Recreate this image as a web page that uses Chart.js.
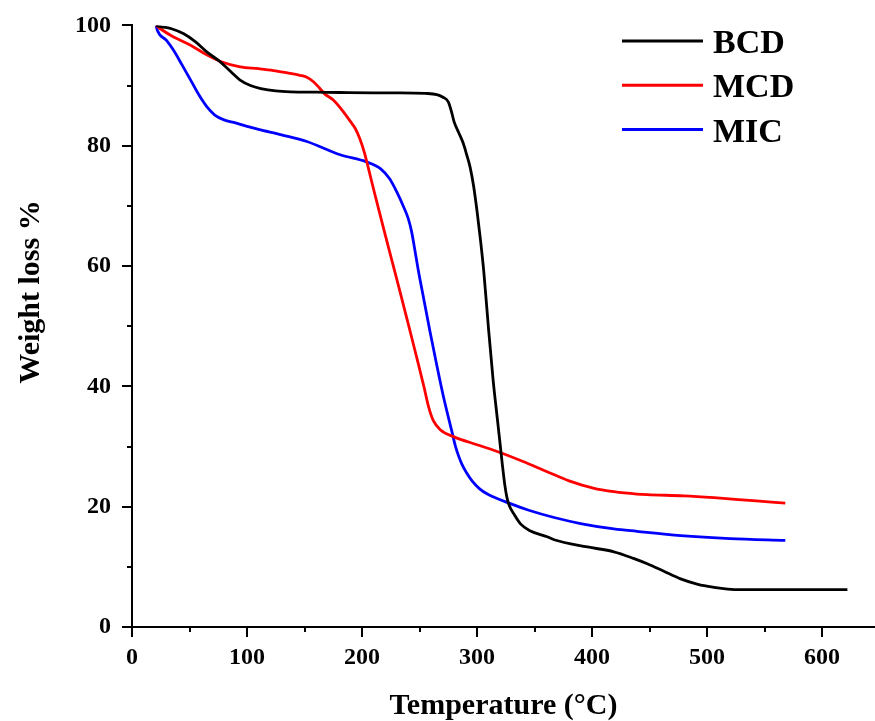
<!DOCTYPE html>
<html>
<head>
<meta charset="utf-8">
<title>TGA - Weight loss vs Temperature</title>
<script src="https://cdn.jsdelivr.net/npm/chart.js@4.4.1/dist/chart.umd.min.js"></script>
<style>
    html, body { margin: 0; padding: 0; background: #ffffff; }
    #wrap { width: 875px; height: 721px; position: relative; }
</style>
</head>
<body>
<div id="wrap"><canvas id="tgaChart"></canvas></div>
<script>
// Series data (temperature in °C, weight %)
const seriesNames = ['BCD', 'MCD', 'MIC'];
const seriesColors = ['#000000', '#ff0000', '#0000ff'];

const bcdTemp = [21, 25, 35, 45, 55, 65, 77, 86, 94, 103, 112, 125, 138, 160, 181, 210, 233, 255, 265, 270, 275, 278, 280, 284, 288, 291, 294, 297, 300, 303, 306, 310, 314, 318, 320, 322, 324, 326, 328, 332, 338, 346, 361, 367, 396, 419, 436, 448, 462, 477, 492, 506, 518, 529, 560, 590, 622];
const bcdWeight = [100, 99.8, 99.4, 98.6, 97.3, 95.6, 93.9, 92.3, 90.9, 90.0, 89.5, 89.1, 88.95, 88.9, 88.85, 88.8, 88.8, 88.7, 88.5, 88.1, 87.3, 85.5, 84.0, 82.2, 80.4, 78.5, 76.4, 73.3, 69.1, 64.3, 58.8, 49.5, 41.0, 34.0, 30.5, 27.0, 23.8, 21.5, 20.2, 18.8, 17.1, 16.0, 15.0, 14.5, 13.3, 12.5, 11.4, 10.5, 9.3, 8.0, 7.1, 6.6, 6.3, 6.2, 6.2, 6.2, 6.2];

const mcdTemp = [21, 25, 35, 51, 65, 77, 94, 110, 123, 135, 146, 152, 158, 163, 167, 175, 184, 190, 194, 198, 202, 206, 210, 214, 220, 232, 242, 249, 254, 258, 262, 268, 280, 300, 320, 340, 361, 380, 401, 419, 439, 448, 480, 506, 540, 568];
const mcdWeight = [100, 99.4, 98.2, 96.7, 95.1, 94.0, 93.1, 92.8, 92.5, 92.1, 91.7, 91.4, 90.6, 89.6, 88.7, 87.6, 85.6, 84.0, 82.9, 81.2, 78.9, 75.9, 72.8, 69.8, 65.3, 56.5, 49.0, 43.7, 39.8, 36.5, 34.3, 32.8, 31.6, 30.3, 29.0, 27.5, 25.8, 24.3, 23.1, 22.5, 22.1, 22.0, 21.8, 21.5, 21.0, 20.6];

const micTemp = [21, 22, 30, 36, 43, 51, 58, 65, 72, 80, 90, 100, 110, 130, 152, 181, 204, 216, 224, 230, 236, 240, 243, 246, 249, 254, 259, 265, 271, 278, 281, 284, 287, 291, 296, 302, 309, 329, 345, 367, 390, 419, 439, 477, 520, 568];
const micWeight = [100, 99.2, 97.5, 95.9, 93.6, 90.9, 88.5, 86.5, 85.1, 84.3, 83.8, 83.2, 82.7, 81.8, 80.7, 78.5, 77.3, 76.2, 74.5, 72.4, 69.9, 68.0, 65.8, 62.6, 59.2, 54.2, 49.2, 43.5, 38.1, 32.6, 30.2, 28.4, 27.0, 25.6, 24.2, 23.0, 22.1, 20.5, 19.4, 18.2, 17.2, 16.3, 15.9, 15.2, 14.7, 14.4];

// Axis ticks
const xTickValues = [0, 100, 200, 300, 400, 500, 600];
const xMinorTicks = [50, 150, 250, 350, 450, 550];
const yTickValues = [0, 20, 40, 60, 80, 100];
const yMinorTicks = [10, 30, 50, 70, 90];

const xTitle = 'Temperature (°C)';
const yTitle = 'Weight loss %';

const FONT = '"Liberation Serif", "Times New Roman", serif';

/**
 * Zip two arrays into Chart.js {x, y} points
 */
function toPoints(xs, ys) {
    return xs.map((x, i) => ({ x: x, y: ys[i] }));
}

/**
 * Minor ticks, inline legend and the rotated y title
 */
const overlayPlugin = {
    id: 'overlay',
    afterDraw(chart) {
        const ctx = chart.ctx;
        const area = chart.chartArea;
        const xs = chart.scales.x;
        const ys = chart.scales.y;

        ctx.save();
        ctx.strokeStyle = '#000';
        ctx.lineWidth = 2;

        // minor tick marks (outside, shorter)
        xMinorTicks.forEach(v => {
            const px = Math.round(xs.getPixelForValue(v));
            ctx.beginPath();
            ctx.moveTo(px, area.bottom);
            ctx.lineTo(px, area.bottom + 5);
            ctx.stroke();
        });
        yMinorTicks.forEach(v => {
            const py = Math.round(ys.getPixelForValue(v));
            ctx.beginPath();
            ctx.moveTo(area.left, py);
            ctx.lineTo(area.left - 5, py);
            ctx.stroke();
        });

        // legend
        ctx.font = 'bold 34px ' + FONT;
        ctx.textAlign = 'left';
        ctx.textBaseline = 'alphabetic';
        chart.data.datasets.forEach((ds, i) => {
            const y = 41 + i * 44.3;
            ctx.strokeStyle = ds.borderColor;
            ctx.lineWidth = 3;
            ctx.beginPath();
            ctx.moveTo(622, y);
            ctx.lineTo(703, y);
            ctx.stroke();
            ctx.fillStyle = '#000';
            ctx.fillText(ds.label, 713, y + 12);
        });

        // y axis title
        ctx.translate(31, 292);
        ctx.rotate(-Math.PI / 2);
        ctx.font = 'bold 30px ' + FONT;
        ctx.textAlign = 'center';
        ctx.textBaseline = 'middle';
        ctx.fillStyle = '#000';
        ctx.fillText(yTitle, 0, 0);
        ctx.restore();
    }
};

function initTgaChart(canvasId) {
    const ctx = document.getElementById(canvasId);
    if (!ctx) {
        console.error(`Canvas element with ID '${canvasId}' not found`);
        return;
    }

    const temps = [bcdTemp, mcdTemp, micTemp];
    const weights = [bcdWeight, mcdWeight, micWeight];

    const datasets = seriesNames.map((name, i) => ({
        label: name,
        data: toPoints(temps[i], weights[i]),
        borderColor: seriesColors[i],
        backgroundColor: seriesColors[i],
        borderWidth: 2.8,
        pointRadius: 0,
        fill: false,
        cubicInterpolationMode: 'monotone'
    }));

    const tickFont = { family: FONT, size: 24, weight: 'bold' };

    window.tgaChart = new Chart(ctx, {
        type: 'line',
        data: { datasets: datasets },
        plugins: [overlayPlugin],
        options: {
            responsive: true,
            maintainAspectRatio: false,
            animation: false,
            layout: {
                padding: { top: 23, right: 0, bottom: 0, left: 0 }
            },
            plugins: {
                legend: { display: false },
                tooltip: { enabled: false },
                title: { display: false }
            },
            scales: {
                x: {
                    type: 'linear',
                    min: 0,
                    max: 646,
                    afterBuildTicks: scale => {
                        scale.ticks = xTickValues.map(v => ({ value: v }));
                    },
                    afterFit: scale => { scale.height = 94; },
                    border: { display: true, color: '#000', width: 2 },
                    grid: {
                        drawOnChartArea: false,
                        drawTicks: true,
                        tickLength: 10,
                        color: '#000',
                        lineWidth: 2
                    },
                    ticks: {
                        font: tickFont,
                        color: '#000',
                        padding: 6,
                        maxRotation: 0
                    },
                    title: {
                        display: true,
                        text: xTitle,
                        color: '#000',
                        font: { family: FONT, size: 30, weight: 'bold', lineHeight: 1 },
                        padding: { top: 0, bottom: 0 }
                    }
                },
                y: {
                    type: 'linear',
                    min: 0,
                    max: 100,
                    afterBuildTicks: scale => {
                        scale.ticks = yTickValues.map(v => ({ value: v }));
                    },
                    afterFit: scale => { scale.width = 132; },
                    border: { display: true, color: '#000', width: 2 },
                    grid: {
                        drawOnChartArea: false,
                        drawTicks: true,
                        tickLength: 10,
                        color: '#000',
                        lineWidth: 2
                    },
                    ticks: {
                        font: tickFont,
                        color: '#000',
                        padding: 11
                    }
                }
            }
        }
    });
}

initTgaChart('tgaChart');
</script>
</body>
</html>
